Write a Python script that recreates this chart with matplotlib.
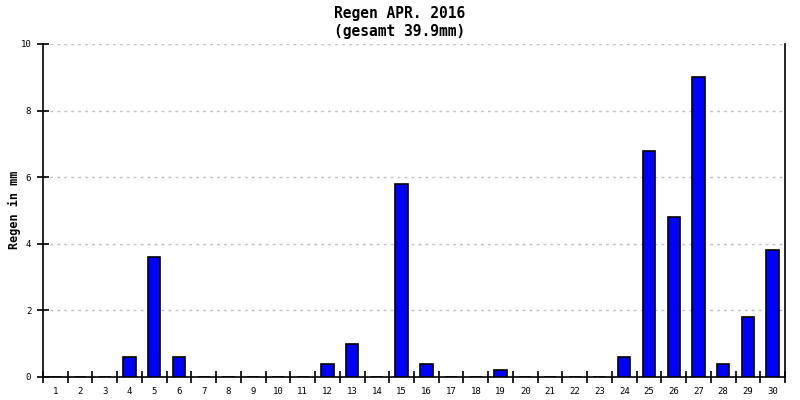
import numpy as np
import matplotlib
matplotlib.use('Agg')
import matplotlib.pyplot as plt
from matplotlib.ticker import FixedLocator, NullFormatter

# Tagesniederschlag April 2016 (mm)
tage = list(range(1, 31))
regen = [0, 0, 0, 0.6, 3.6, 0.6, 0, 0, 0, 0,
         0, 0.4, 1.0, 0, 5.8, 0.4, 0, 0, 0.2, 0,
         0, 0, 0, 0.6, 6.8, 4.8, 9.0, 0.4, 1.8, 3.8]
titel = 'Regen APR. 2016\n(gesamt 39.9mm)'
y_ticks = [0, 2, 4, 6, 8, 10]

mono = 'DejaVu Sans Mono'

fig = plt.figure(figsize=(8, 4), dpi=100)
ax = fig.add_axes([43 / 800, 23 / 400, 742 / 800, 333 / 400])

ax.bar(tage, regen, width=0.5, color='#0000ff', edgecolor='black',
       linewidth=1.2, zorder=3)

ax.set_xlim(0.5, 30.5)
ax.set_ylim(0, 10)

# Striche an den Grenzen, Beschriftung in der Mitte
ax.xaxis.set_major_locator(FixedLocator(np.arange(0.5, 31, 1)))
ax.xaxis.set_major_formatter(NullFormatter())
ax.xaxis.set_minor_locator(FixedLocator(tage))
ax.set_xticklabels([str(t) for t in tage], minor=True)
ax.tick_params(axis='x', which='major', direction='inout', length=9, width=1.2)
ax.tick_params(axis='x', which='minor', length=0, labelsize=6.5, pad=7)

ax.set_yticks(y_ticks)
ax.set_yticklabels([str(v) for v in y_ticks])
ax.tick_params(axis='y', direction='inout', length=9, width=1.2, labelsize=6.5, pad=4)

for lab in ax.get_xticklabels(minor=True) + ax.get_yticklabels():
    lab.set_family(mono)

ax.grid(axis='y', color='#c0c0c0', linestyle=(0, (2, 3)), linewidth=1, zorder=0)

ax.spines['top'].set_visible(False)
for s in ['left', 'right', 'bottom']:
    ax.spines[s].set_linewidth(1.2)

fig.text(14 / 800, 0.5 - 10 / 400, 'Regen in mm', rotation=90, ha='center', va='center',
         family=mono, fontweight='bold', fontsize=8.5)

fig.text(0.5, 0.985, titel, ha='center', va='top', family=mono,
         fontweight='bold', fontsize=10.5, linespacing=1.25)

fig.savefig('out.png', dpi=100)
